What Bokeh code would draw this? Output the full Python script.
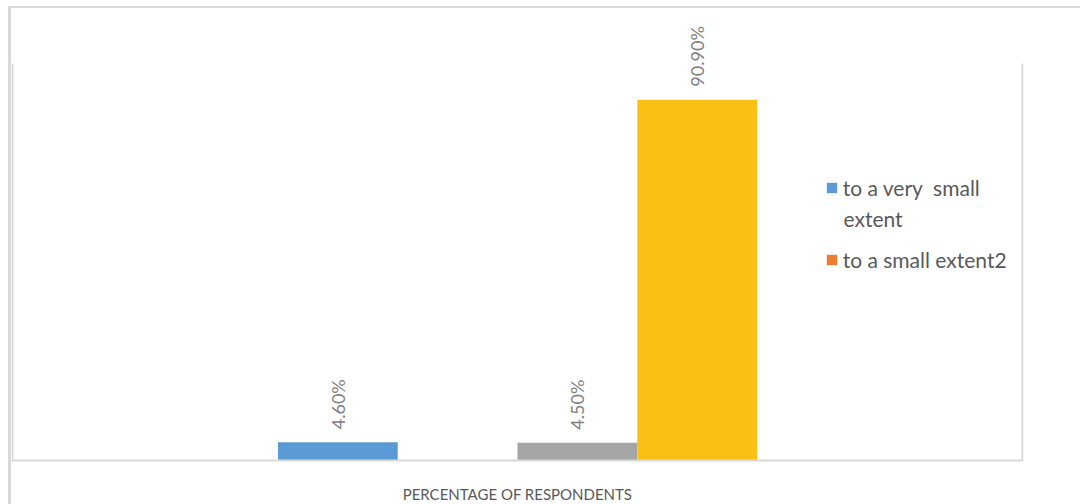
from math import pi
from bokeh.plotting import figure
from bokeh.models import (ColumnDataSource, FactorRange, Range1d, Legend, LegendItem,
                          Span, Label)
from bokeh.transform import dodge
from bokeh.core.properties import value
from bokeh.embed import file_html
from bokeh.resources import INLINE

# ---- data ----
category = ["PERCENTAGE OF RESPONDENTS"]
axis_title = "PERCENTAGE OF RESPONDENTS"
series_names = ["to a very  small", "to a small extent2", "Series3", "Series4"]
legend_wrap = "extent"
series_values = [4.6, 0.0, 4.5, 90.9]
series_labels = ["4.60%", "", "4.50%", "90.90%"]
series_colors = ["#5b9bd5", "#ed7d31", "#a5a5a5", "#fbc015"]
legend_series = [0, 1]
y_max = 100

# ---- layout constants ----
bar_w = 0.1186
offsets = [(-1.5 + i) * bar_w for i in range(len(series_values))]
px_per_unit = 3.97
y_lo = -44.0 / px_per_unit
y_hi = y_max + 48.0 / px_per_unit
grey_line = "#d9d9d9"

p = figure(x_range=FactorRange(factors=category, range_padding=0.001, range_padding_units="absolute"),
           y_range=Range1d(y_lo, y_hi),
           width=1069, height=496, output_backend="svg", toolbar_location=None,
           x_axis_location=None, y_axis_location=None,
           min_border_left=0, min_border_right=57, min_border_top=7, min_border_bottom=0)
p.margin = (8, 0, 0, 11)
p.styles = {"box-shadow": "0 1px 0 3px #d9d9d9"}
p.outline_line_color = None
p.xgrid.visible = False
p.ygrid.visible = False
p.background_fill_color = "white"
p.border_fill_color = "white"

# plot-area lines: baseline, left and right edges
p.add_layout(Span(location=0, dimension="width", line_color=grey_line, line_width=2))
edge_src = ColumnDataSource(dict(x=category))
for side in (-0.5, 0.5):
    p.segment(x0=dodge("x", side, range=p.x_range), x1=dodge("x", side, range=p.x_range),
              y0=0, y1=y_max, source=edge_src, line_color=grey_line, line_width=2)

renderers = []
for i, (name, v, lab, col) in enumerate(zip(series_names, series_values, series_labels, series_colors)):
    src = ColumnDataSource(dict(x=category, top=[v], label=[lab]))
    r = p.vbar(x=dodge("x", offsets[i], range=p.x_range), top="top", width=bar_w,
               source=src, fill_color=col, line_color=None)
    renderers.append(r)
    if lab:
        p.text(x=dodge("x", offsets[i], range=p.x_range), y="top", text="label", source=src,
               angle=pi / 2, text_align="left", text_baseline="middle", y_offset=-13,
               text_font=value("Lato"), text_font_size="18px", text_color="#7f7f7f")

# category-axis title, centred under the category
p.add_layout(Label(x=0.5, y=-33.0 / px_per_unit, text=axis_title,
                   text_font="Lato", text_font_size="15px", text_color="#595959",
                   text_align="center", text_baseline="middle"))

legend = Legend(items=[LegendItem(label=series_names[i], renderers=[renderers[i]]) for i in legend_series],
                location=(813.7, 232), glyph_width=13, glyph_height=13, label_standoff=5,
                spacing=47, padding=0, margin=0, border_line_color=None, background_fill_alpha=0,
                label_text_font="Lato", label_text_font_size="21px", label_text_color="#595959")
p.add_layout(legend)

p.add_layout(Label(x=(843 - 12) / 1010.0, y=(460 - 218) / px_per_unit, text=legend_wrap,
                   text_font="Lato", text_font_size="21px", text_color="#595959",
                   text_baseline="middle", text_align="left"))

open("out.html", "w").write(file_html(p, INLINE))
